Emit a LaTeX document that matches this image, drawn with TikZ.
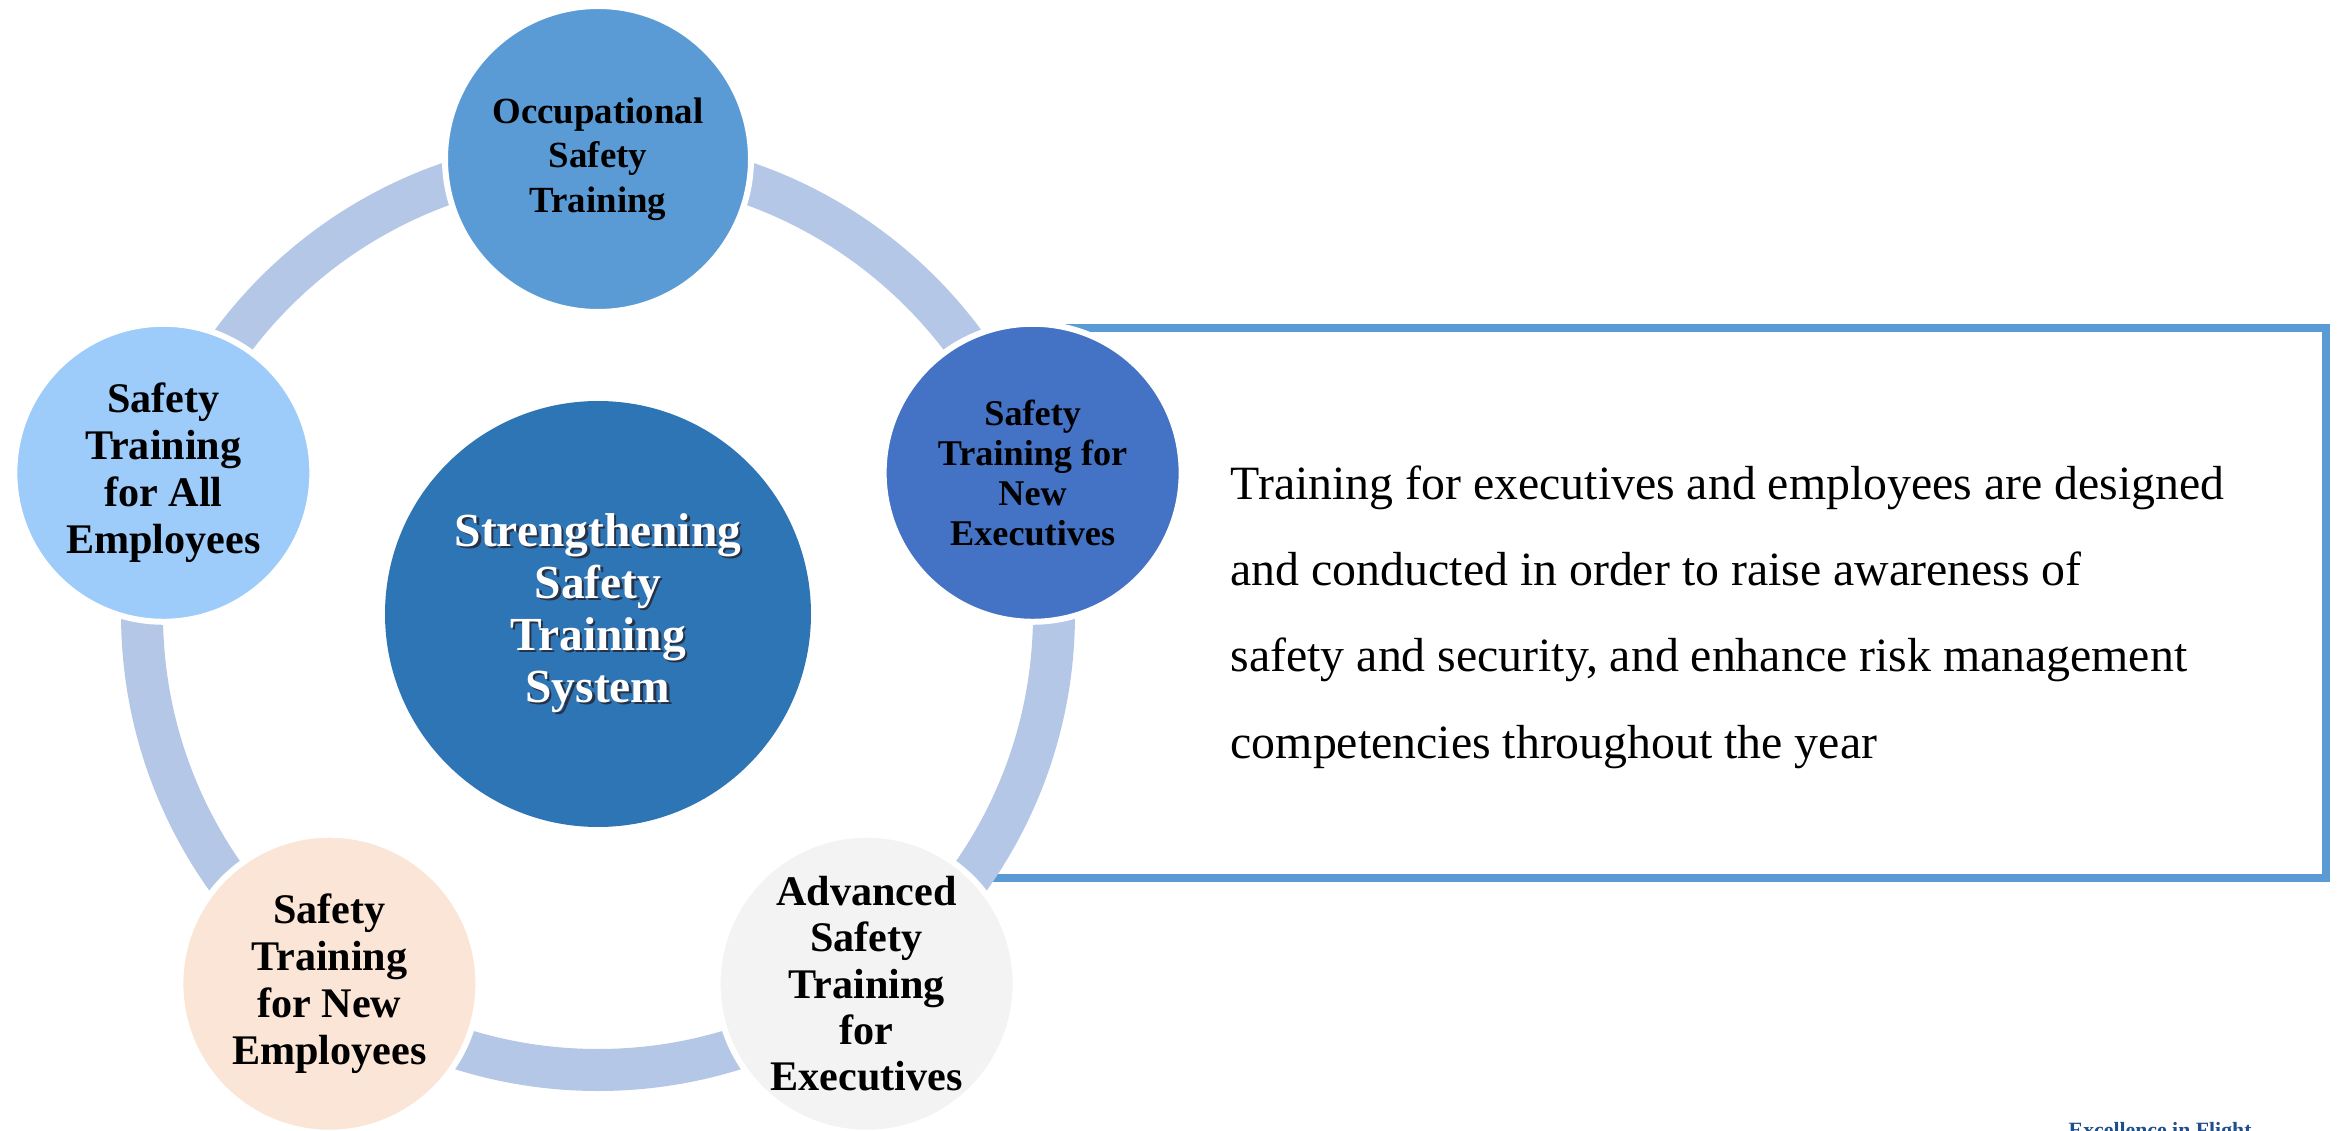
\documentclass[tikz,border=0pt]{standalone}
\usepackage{fontspec}
\setmainfont{Liberation Serif}
\usetikzlibrary{shapes}

\definecolor{hubblue}{RGB}{46,117,182}
\definecolor{ringblue}{RGB}{180,199,231}
\definecolor{occblue}{RGB}{91,155,213}
\definecolor{execblue}{RGB}{68,114,196}
\definecolor{advgray}{RGB}{243,243,243}
\definecolor{newpeach}{RGB}{251,229,214}
\definecolor{allblue}{RGB}{157,203,250}
\definecolor{framblue}{RGB}{91,155,213}
\definecolor{mottoblue}{RGB}{31,78,140}
\definecolor{txtshadow}{RGB}{40,50,70}

% white text with a small dark drop shadow
\newcommand{\shadowed}[1]{\leavevmode\rlap{\kern0.7pt\raisebox{-0.7pt}{\textcolor{txtshadow}{#1}}}#1}

\begin{document}
\begin{tikzpicture}[x=0.1mm, y=0.1mm,
  topic/.style={circle, draw=white, line width=0.6mm, inner sep=0pt,
    minimum size=29.8mm, align=center, text=black}]
  \useasboundingbox (0, 0) rectangle (2339, 1130);
  \clip (0, 0) rectangle (2339, 1130);

  % open frame round the description
  \draw[framblue, line width=0.8mm] (1000, 802) -- (2326, 802) -- (2326, 252) -- (985, 252);

  % ring through the five topics
  \coordinate (hub) at (598, 516);
  \draw[ringblue, line width=4.2mm] (hub) circle [radius=456];

  \node (core) [circle, fill=hubblue, minimum size=42.6mm, inner sep=0pt, align=center,
    text=white, font=\fontsize{13.5}{14.8}\selectfont\bfseries] at (hub)
    {\shadowed{Strengthening}\\\shadowed{Safety}\\\shadowed{Training}\\\shadowed{System}};

  \node (occ) [topic, fill=occblue, minimum size=30.6mm,
    font=\fontsize{10.5}{12.7}\selectfont\bfseries] at ([shift={(90:455)}]hub)
    {Occupational\\Safety\\Training};
  \node (newexec) [topic, fill=execblue,
    font=\fontsize{10.3}{11.4}\selectfont\bfseries] at ([shift={(18:457)}]hub)
    {Safety\\Training for\\New\\Executives};
  \node (advexec) [topic, fill=advgray,
    font=\fontsize{12}{13.2}\selectfont\bfseries] at ([shift={(-54:457)}]hub)
    {Advanced\\Safety\\Training\\for\\Executives};
  \node (newemp) [topic, fill=newpeach,
    font=\fontsize{12}{13.3}\selectfont\bfseries] at ([shift={(-126:457)}]hub)
    {Safety\\Training\\for New\\Employees};
  \node (allemp) [topic, fill=allblue,
    font=\fontsize{12}{13.3}\selectfont\bfseries] at ([shift={(162:457)}]hub)
    {Safety\\Training\\for All\\Employees};

  % base sits on the last of the four lines
  \node (note) [anchor=base west, align=left, inner sep=0pt,
    font=\fontsize{13.6}{24.5}\selectfont] at (1230, 372)
    {Training for executives and employees are designed\\
     and conducted in order to raise awareness of\\
     safety and security, and enhance risk management\\
     competencies throughout the year};

  \node (motto) [anchor=north west, inner sep=0pt, text=mottoblue,
    font=\fontsize{6.2}{7}\selectfont\bfseries] at (2068, 8) {Excellence in Flight};
\end{tikzpicture}
\end{document}
